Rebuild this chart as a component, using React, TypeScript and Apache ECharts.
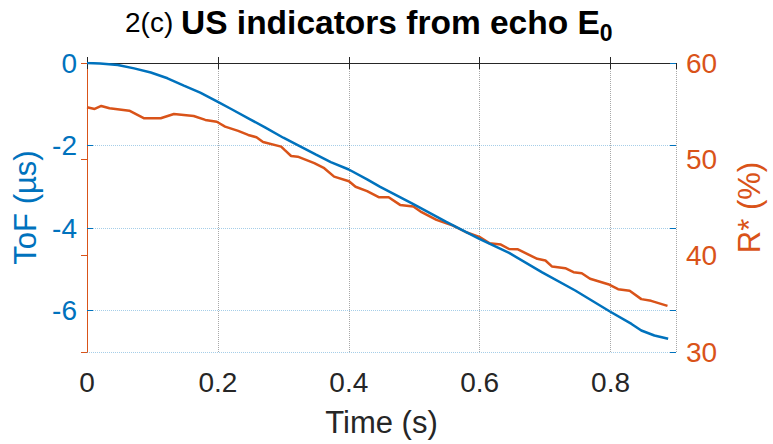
import React, { useEffect, useRef } from "react";
import * as echarts from "echarts";

// ToF series (time in s, ToF in µs)
const tofTime = [0, 0.02, 0.047, 0.072, 0.0975, 0.123, 0.148, 0.173, 0.2, 0.221, 0.25, 0.272, 0.3, 0.322, 0.35, 0.3725, 0.4, 0.428, 0.448, 0.4987, 0.549, 0.5995, 0.645, 0.6955, 0.746, 0.799, 0.832, 0.847, 0.867, 0.888];
const tofValues = [0, -0.01, -0.05, -0.13, -0.23, -0.37, -0.55, -0.72, -0.94, -1.12, -1.37, -1.56, -1.81, -1.99, -2.22, -2.4, -2.58, -2.82, -3.0, -3.42, -3.85, -4.26, -4.6, -5.07, -5.51, -6.02, -6.32, -6.48, -6.6, -6.68];

// R* series (time in s, R* in %)
const rTime = [0, 0.0117, 0.0218, 0.0344, 0.0646, 0.0874, 0.1126, 0.1328, 0.163, 0.1808, 0.1983, 0.211, 0.231, 0.2463, 0.2589, 0.269, 0.2967, 0.3019, 0.3119, 0.322, 0.3473, 0.3625, 0.3776, 0.4003, 0.4103, 0.428, 0.4457, 0.4609, 0.4784, 0.4987, 0.5113, 0.534, 0.5593, 0.5794, 0.5995, 0.6147, 0.6324, 0.645, 0.6577, 0.688, 0.7005, 0.7107, 0.7308, 0.7434, 0.756, 0.7687, 0.7964, 0.8115, 0.8292, 0.847, 0.862, 0.887];
const rValues = [55.4, 55.23, 55.54, 55.3, 55.05, 54.26, 54.26, 54.7, 54.5, 54.09, 53.9, 53.4, 52.95, 52.53, 52.29, 51.8, 51.32, 50.98, 50.35, 50.28, 49.6, 49.08, 48.2, 47.72, 47.15, 46.7, 46.07, 46.07, 45.27, 45.1, 44.51, 43.71, 43.12, 42.43, 41.95, 41.3, 41.15, 40.69, 40.67, 39.67, 39.5, 38.87, 38.7, 38.29, 38.18, 37.6, 37.04, 36.52, 36.35, 35.49, 35.31, 34.79];

const titlePrefix = "2(c)";
const titleMain = "US indicators from echo E";
const titleSub = "0";
const xName = "Time (s)";
const leftName = "ToF (µs)";
const rightName = "R* (%)";

const BLUE = "#0072BD";
const ORANGE = "#D95319";
const DARK = "#262626";
const FONT = "'Liberation Sans', Arial, Helvetica, sans-serif";

export default function App() {
  const ref = useRef<HTMLDivElement>(null);
  useEffect(() => {
    if (!ref.current) return;
    const chart = echarts.init(ref.current, null, { renderer: "svg" });
    const tofData = tofTime.map((t, i) => [t, tofValues[i]]);
    const rData = rTime.map((t, i) => [t, rValues[i]]);
    chart.setOption({
      animation: false,
      backgroundColor: "#ffffff",
      textStyle: { fontFamily: FONT },
      title: {
        text: `{a|${titlePrefix}} {b|${titleMain}}{s|${titleSub}}`,
        left: 125,
        top: 0,
        padding: 0,
        textStyle: {
          fontFamily: FONT,
          fontSize: 28,
          fontWeight: "normal",
          lineHeight: 44,
          color: "#000",
          rich: {
            a: { fontFamily: FONT, fontSize: 28, fontWeight: "normal", color: "#000", lineHeight: 44 },
            b: { fontFamily: FONT, fontSize: 33.5, fontWeight: "bold", color: "#000", lineHeight: 44 },
            s: { fontFamily: FONT, fontSize: 23, fontWeight: "bold", color: "#000", lineHeight: 22, verticalAlign: "bottom" },
          },
        },
      },
      grid: { left: 87, right: 92, top: 63, bottom: 92, containLabel: false },
      xAxis: [
        {
          type: "value",
          min: 0,
          max: 0.9,
          interval: 0.2,
          position: "bottom",
          name: xName,
          nameLocation: "middle",
          nameGap: 55,
          nameTextStyle: { fontFamily: FONT, fontSize: 31, color: DARK },
          axisLine: { show: true, lineStyle: { color: DARK, width: 1 } },
          axisTick: { show: true, inside: true, length: 6, lineStyle: { color: DARK } },
          axisLabel: { fontFamily: FONT, fontSize: 28, color: DARK, margin: 16, showMaxLabel: false },
          splitLine: { show: true, lineStyle: { color: "rgba(38,38,38,0.4)", type: "dotted", width: 1 } },
        },
        {
          type: "value",
          min: 0,
          max: 0.9,
          interval: 0.2,
          position: "top",
          axisLine: { show: true, lineStyle: { color: DARK, width: 1 } },
          axisTick: { show: true, inside: true, length: 6, lineStyle: { color: DARK } },
          axisLabel: { show: false },
          splitLine: { show: false },
        },
      ],
      yAxis: [
        {
          type: "value",
          min: -7,
          max: 0,
          splitNumber: 4,
          position: "left",
          name: leftName,
          nameLocation: "middle",
          nameRotate: 90,
          nameGap: 40,
          nameTextStyle: { fontFamily: FONT, fontSize: 31, color: BLUE },
          axisLine: { show: true, lineStyle: { color: BLUE, width: 1 } },
          axisTick: { show: true, inside: true, length: 6, lineStyle: { color: BLUE } },
          axisLabel: { fontFamily: FONT, fontSize: 28, color: BLUE, margin: 10, showMinLabel: false },
          splitLine: { show: true, lineStyle: { color: "rgba(0,114,189,0.35)", type: "dotted", width: 1 } },
        },
        {
          type: "value",
          min: 30,
          max: 60,
          interval: 10,
          position: "right",
          name: rightName,
          nameLocation: "middle",
          nameRotate: 90,
          nameGap: 58,
          nameTextStyle: { fontFamily: FONT, fontSize: 31, color: ORANGE },
          axisLine: { show: true, lineStyle: { color: ORANGE, width: 1 } },
          axisTick: { show: true, inside: true, length: 6, lineStyle: { color: ORANGE } },
          axisLabel: { fontFamily: FONT, fontSize: 28, color: ORANGE, margin: 10 },
          splitLine: { show: false },
        },
        {
          type: "value",
          min: -7,
          max: 0,
          splitNumber: 4,
          position: "right",
          axisLine: { show: false },
          axisTick: { show: true, inside: true, length: 6, lineStyle: { color: BLUE } },
          axisLabel: { show: false },
          splitLine: { show: false },
        },
      ],
      series: [
        {
          type: "line",
          name: "ToF",
          xAxisIndex: 0,
          yAxisIndex: 0,
          data: tofData,
          showSymbol: false,
          symbol: "none",
          lineStyle: { color: BLUE, width: 2.5 },
          itemStyle: { color: BLUE },
          z: 3,
        },
        {
          type: "line",
          name: "R*",
          xAxisIndex: 0,
          yAxisIndex: 1,
          data: rData,
          showSymbol: false,
          symbol: "none",
          lineStyle: { color: ORANGE, width: 2.5 },
          itemStyle: { color: ORANGE },
          z: 2,
        },
      ],
    });
    return () => chart.dispose();
  }, []);
  return (
    <div
      ref={ref}
      style={{ position: "fixed", left: 0, top: 0, width: 773, height: 444, background: "#fff" }}
    />
  );
}
